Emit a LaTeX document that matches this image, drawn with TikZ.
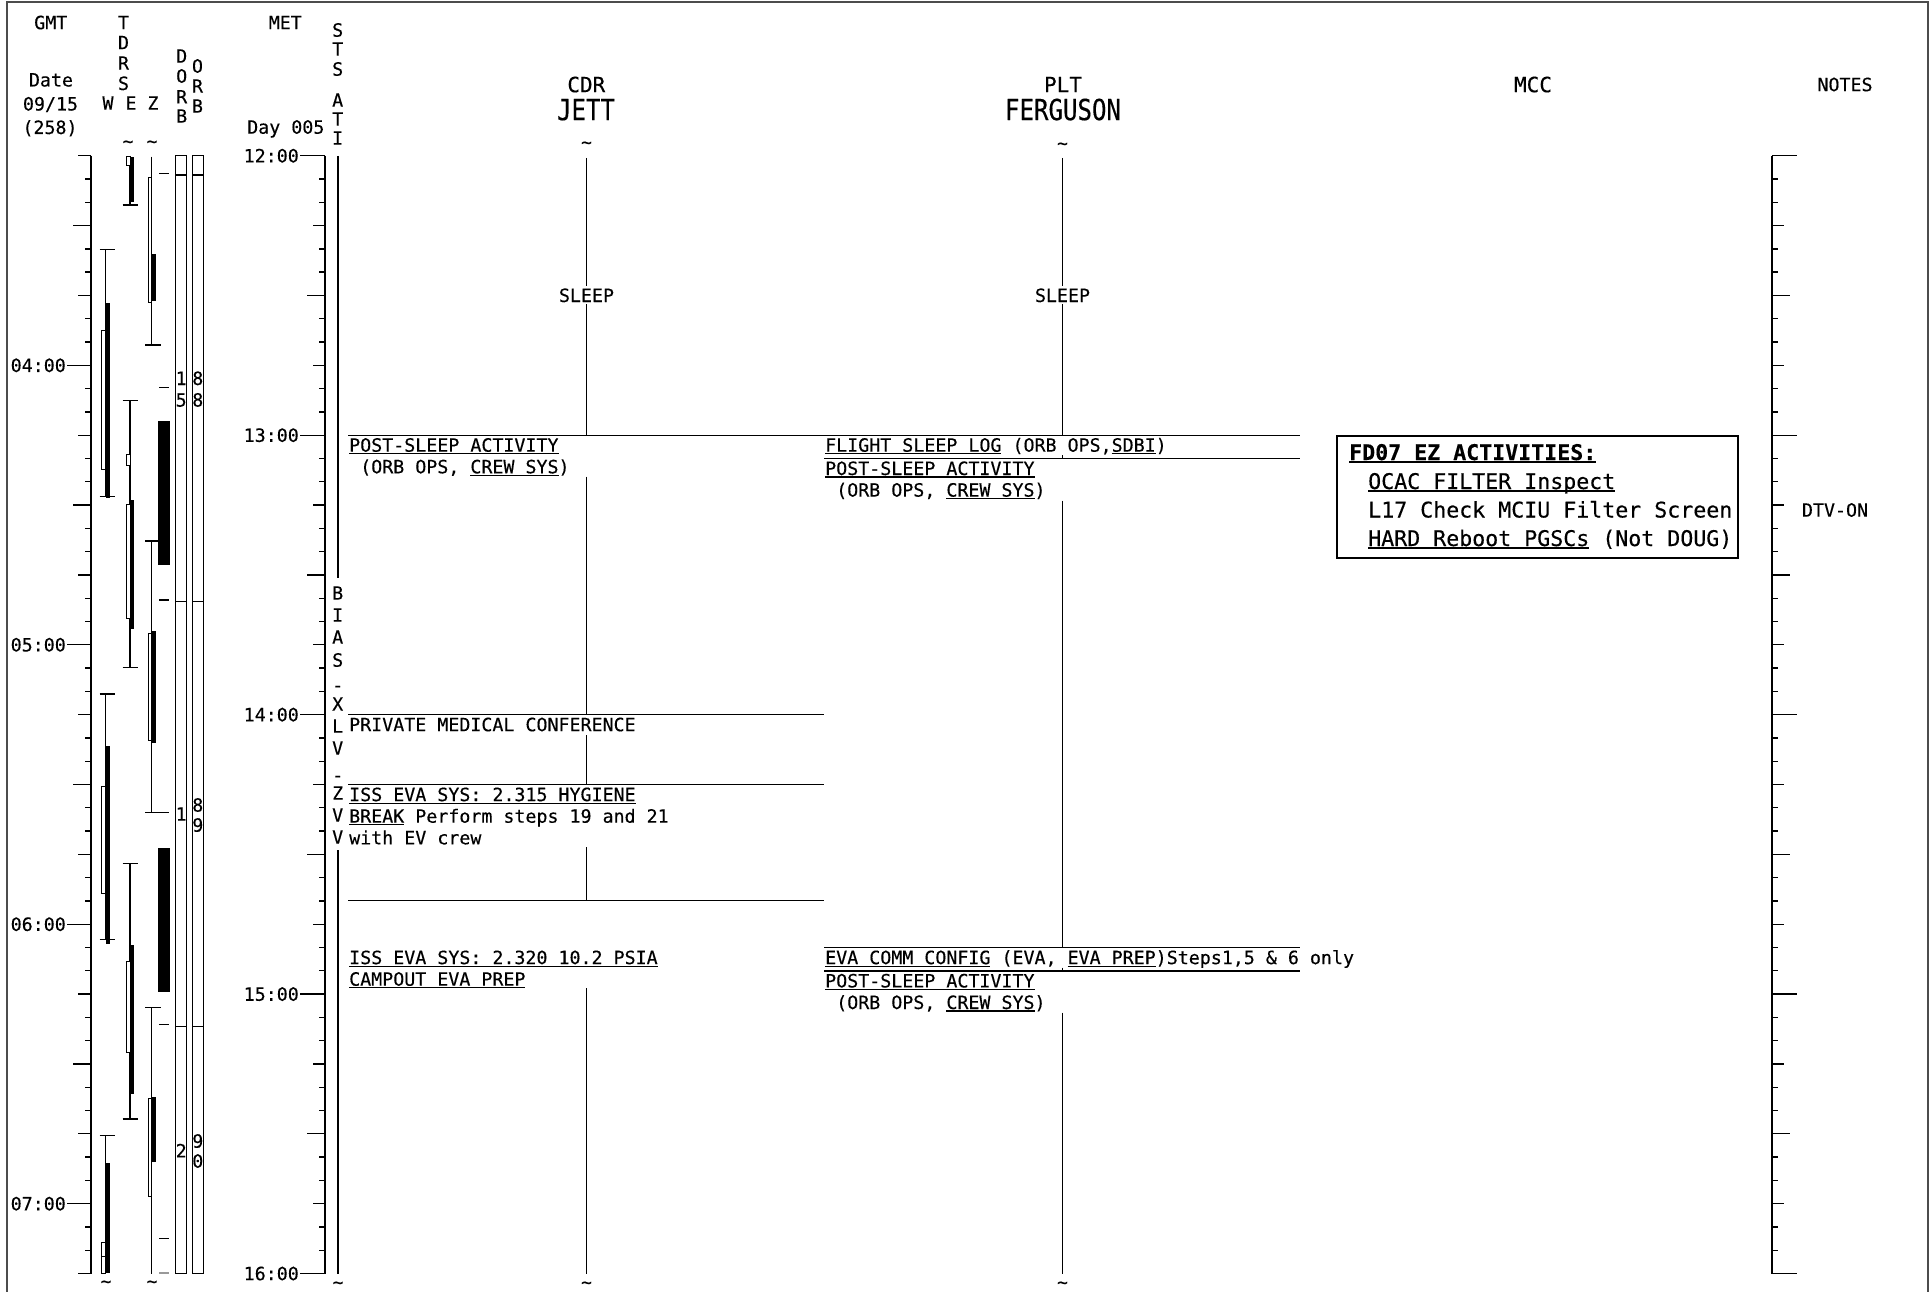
\documentclass[tikz,border=0pt]{standalone}
\usepackage{fontspec}
\newfontfamily\mono[FakeBold=0.3]{DejaVu Sans Mono}
\newfontfamily\monoN[FakeStretch=0.83,FakeBold=0.3]{DejaVu Sans Mono}
\newsavebox\ulbox
\newcommand\UL[1]{\sbox\ulbox{#1}\rlap{\rule[-2.6pt]{\wd\ulbox}{1.2pt}}\usebox\ulbox}
\newcommand\ULB[1]{\sbox\ulbox{#1}\rlap{\rule[-3.2pt]{\wd\ulbox}{1.8pt}}\usebox\ulbox}
\begin{document}
\begin{tikzpicture}[x=1pt,y=-1pt,
  ln/.style={line width=1.3pt},
  tk/.style={line width=1.3pt},
  stsline/.style={line width=2.2pt},
  frameline/.style={line width=2pt, draw=black!70},
  wbar/.style={draw, fill=white, line width=1pt},
  bbar/.style={fill=black},
  txt/.style={font=\mono\fontsize{18.3}{21.6}\selectfont, inner sep=0pt, anchor=base west},
  hd/.style={font=\mono\fontsize{18.3}{21.6}\selectfont, inner sep=0pt, anchor=base},
  lbl/.style={font=\mono\fontsize{18.3}{21.6}\selectfont, inner sep=0pt, anchor=base east},
  colhd/.style={font=\mono\fontsize{21}{25}\selectfont, inner sep=0pt, anchor=base},
  crew/.style={font=\monoN\fontsize{29}{32}\selectfont, inner sep=0pt, anchor=base},
  mcctxt/.style={font=\mono\fontsize{21.6}{28.7}\selectfont, inner sep=0pt, anchor=base west},
  tld/.style={font=\mono\fontsize{18}{20}\selectfont, inner sep=0pt, anchor=base},
  sleeplbl/.style={font=\mono\fontsize{18.3}{21.6}\selectfont, inner sep=2pt, anchor=base, fill=white},
]
\useasboundingbox (0,0) rectangle (1929,1292);

% frame
\draw[frameline] (7,1292) -- (7,2) -- (1928,2) -- (1928,1292);

% ---------- header ----------
\node[hd] (gmt) at (50.8,29.2) {GMT};
\node[hd] (date) at (51,86.5) {Date};
\node[hd] (dday) at (50.5,110.5) {09/15};
\node[hd] (doy) at (50,134) {(258)};
\foreach \c/\yy [count=\i] in {T/29.2,D/49.2,R/69.7,S/90}
  \node[hd] (tdrs\i) at (123.5,\yy) {\c};
\node[hd] (tw) at (108,109.7) {W};
\node[hd] (te) at (131,109.7) {E};
\node[hd] (tz) at (153,109.7) {Z};
\foreach \c/\yy [count=\i] in {D/62.7,O/82.7,R/103.4,B/122.7}
  \node[hd] (dorb\i) at (181.7,\yy) {\c};
\foreach \c/\yy [count=\i] in {O/72.7,R/92.7,B/112.7}
  \node[hd] (orb\i) at (197.5,\yy) {\c};
\node[hd] (met) at (285.3,29.2) {MET};
\node[hd] (day) at (285.8,133.7) {Day 005};
\foreach \c/\yy [count=\i] in {S/36.7,T/55.7,S/75.7,A/106.7,T/125.7,I/144.7}
  \node[hd] (sts\i) at (337.7,\yy) {\c};

\node[colhd] (cdr) at (586.3,92.2) {CDR};
\node[crew] (jett) at (586,120.1) {JETT};
\node[colhd] (plt) at (1063,92.2) {PLT};
\node[crew] (ferg) at (1063,120.1) {FERGUSON};
\node[colhd] (mcc) at (1533,92.2) {MCC};
\node[hd] (notes) at (1845,91.2) {NOTES};

% tildes
\node[tld] (tlE) at (128,147.5) {\textasciitilde};
\node[tld] (tlZ) at (152,147.5) {\textasciitilde};
\node[tld] (tlC) at (586.5,148.5) {\textasciitilde};
\node[tld] (tlP) at (1062.5,149.5) {\textasciitilde};
\node[tld] (blW) at (106,1287.5) {\textasciitilde};
\node[tld] (blZ) at (152,1287.5) {\textasciitilde};
\node[tld] (blS) at (338,1288.5) {\textasciitilde};
\node[tld] (blC) at (586.5,1288.5) {\textasciitilde};
\node[tld] (blP) at (1062.5,1288.5) {\textasciitilde};

% ---------- axes ----------
\draw[tk] (91,155.7) -- (91,1273.5);
\draw[tk] (325,155.7) -- (325,1273.5);
\draw[tk] (1772,155.7) -- (1772,1273.5);
\foreach \k in {0,...,48}{
  \pgfmathsetmacro\yy{155.7+23.2875*\k}
  \pgfmathtruncatemacro\mm{mod(5*\k,60)}
  \pgfmathtruncatemacro\gm{mod(15+5*\k,60)}
  \pgfmathsetmacro\La{\mm==0 ? 25 : (\mm==30 ? 18 : ((\mm==15 || \mm==45) ? 12 : 6))}
  \pgfmathsetmacro\Lg{\gm==0 ? 24 : (\gm==30 ? 18 : ((\gm==15 || \gm==45) ? 12.7 : 6))}
  \draw[tk] (325-\La,\yy) -- (325,\yy);
  \draw[tk] (91-\Lg,\yy) -- (91,\yy);
  \draw[tk] (1772,\yy) -- (1772+\La,\yy);
}
\foreach \k/\t in {0/12,12/13,24/14,36/15,48/16}
  \node[lbl] (met\t) at (299,{155.7+23.2875*\k+6.7}) {\t:00};
\foreach \k/\t in {9/04,21/05,33/06,45/07}
  \node[lbl] (gmt\t) at (66,{155.7+23.2875*\k+6.7}) {\t:00};

% ---------- TDRS W ----------
\draw[ln] (105.7,249.3) -- (105.7,496.7);
\draw[ln] (99.5,249.3) -- (115,249.3);
\draw[ln] (99.5,496.7) -- (115,496.7);
\draw[wbar] (101.7,330) rectangle (105.7,469.3);
\fill[bbar] (105.7,303.3) rectangle (110,498.3);
\draw[ln] (105.7,694) -- (105.7,939.3);
\draw[ln] (99.5,694) -- (115,694);
\draw[ln] (99.5,939.3) -- (115,939.3);
\fill[bbar] (105.7,746) rectangle (110,944);
\draw[wbar] (101.7,786.7) rectangle (105.7,893.3);
\draw[ln] (105.7,1135.7) -- (105.7,1273.5);
\draw[ln] (99.5,1135.7) -- (115,1135.7);
\fill[bbar] (105.7,1163.3) rectangle (110,1273.3);
\draw[wbar] (101.7,1242.3) rectangle (105.7,1273.3);
\draw[line width=1pt] (101.7,1256.7) -- (105.7,1256.7);

% ---------- TDRS E ----------
\draw[ln] (130,156) -- (130,205);
\draw[ln] (122.7,205) -- (138.3,205);
\draw[wbar] (126,156.7) rectangle (130,166);
\fill[bbar] (130,157.3) rectangle (134,201.7);
\draw[ln] (130,400.7) -- (130,667.7);
\draw[ln] (122.7,400.7) -- (138.3,400.7);
\draw[ln] (122.7,667.7) -- (138.3,667.7);
\draw[wbar] (126,454) rectangle (130,465);
\draw[wbar] (126,504) rectangle (130,618.3);
\fill[bbar] (130,500) rectangle (134,629.3);
\draw[ln] (130,863.3) -- (130,1119);
\draw[ln] (122.7,863.3) -- (138.3,863.3);
\draw[ln] (122.7,1119) -- (138.3,1119);
\fill[bbar] (130,945) rectangle (134,1094.3);
\draw[wbar] (126,961.7) rectangle (130,1052.3);

% ---------- TDRS Z ----------
\draw[ln] (151.7,156.7) -- (151.7,345);
\draw[ln] (145,345) -- (160.7,345);
\draw[wbar] (148.3,177.3) rectangle (151.7,302.7);
\fill[bbar] (151.7,254.3) rectangle (155.7,300.7);
\draw[ln] (151.7,541) -- (151.7,812.3);
\draw[ln] (145,541) -- (160.7,541);
\draw[ln] (145,812.3) -- (160.7,812.3);
\draw[wbar] (148.3,633.3) rectangle (151.7,740.7);
\fill[bbar] (151.7,631) rectangle (155.7,743.3);
\draw[ln] (151.7,1007.7) -- (151.7,1273.5);
\draw[ln] (145,1007.7) -- (160.7,1007.7);
\draw[wbar] (148.3,1098.3) rectangle (151.7,1196.7);
\fill[bbar] (151.7,1096.7) rectangle (155.7,1161.7);

% big black bars and marks
\fill[bbar] (158.3,421) rectangle (170,565);
\fill[bbar] (158.3,848.3) rectangle (170,991.7);
\foreach \yy in {173.3,387.7,600,812.3,1024.3,1238.3}
  \draw[ln] (159.3,\yy) -- (169.3,\yy);
\draw[ln, black!40] (159.3,1273) -- (169.3,1273);

% ---------- DORB / ORB ----------
\draw[ln] (175.7,155.7) rectangle (186.7,1273.3);
\draw[ln] (192.3,155.7) rectangle (203.3,1273.3);
\foreach \yy in {175,601.7,1026.7}{
  \draw[ln] (175.7,\yy) -- (186.7,\yy);
  \draw[ln] (192.3,\yy) -- (203.3,\yy);
}
\node[hd] (dn1) at (181.2,385) {1};
\node[hd] (dn2) at (181.2,406.6) {5};
\node[hd] (on1) at (197.8,385) {8};
\node[hd] (on2) at (197.8,406.6) {8};
\node[hd] (dn3) at (181.2,820.7) {1};
\node[hd] (on3) at (197.8,811.7) {8};
\node[hd] (on4) at (197.8,831.7) {9};
\node[hd] (dn4) at (181.2,1157.4) {2};
\node[hd] (on5) at (197.8,1147.7) {9};
\node[hd] (on6) at (197.8,1167.7) {0};

% ---------- STS ATI column ----------
\draw[stsline] (337.7,156) -- (337.7,578.3);
\draw[stsline] (337.7,850) -- (337.7,1273.5);
\foreach \c/\yy [count=\i] in {B/593,I/615,A/637,S/660,-/685,X/704,L/726,V/748,-/775,Z/793,V/815,V/837}
  \node[hd] (bias\i) at (337.7,\yy+6.7) {\c};

% ---------- CDR / PLT timelines ----------
\draw[ln] (586.5,158) -- (586.5,435.2);
\draw[ln] (586.5,476.7) -- (586.5,714.7);
\draw[ln] (586.5,735) -- (586.5,784.6);
\draw[ln] (586.5,847) -- (586.5,900.8);
\draw[ln] (586.5,988) -- (586.5,1273.5);
\draw[ln] (1062.5,158) -- (1062.5,435.2);
\draw[ln] (1062.5,455) -- (1062.5,458.5);
\draw[ln] (1062.5,500.7) -- (1062.5,947.6);
\draw[ln] (1062.5,967.5) -- (1062.5,970.9);
\draw[ln] (1062.5,1012.5) -- (1062.5,1273.5);

\draw[ln] (348,435.2) -- (1300,435.2);
\draw[ln] (824,458.5) -- (1300,458.5);
\draw[ln] (348,714.7) -- (824,714.7);
\draw[ln] (348,784.6) -- (824,784.6);
\draw[ln] (348,900.8) -- (824,900.8);
\draw[ln] (824,947.6) -- (1300,947.6);
\draw[ln] (824,970.9) -- (1300,970.9);

\node[sleeplbl] (sleepC) at (586.5,302) {SLEEP};
\node[sleeplbl] (sleepP) at (1062.5,302) {SLEEP};

% CDR activities
\node[txt] (c1a) at (349,451.7) {\UL{POST-SLEEP ACTIVITY}};
\node[txt] (c1b) at (349,473.3) {\hphantom{X}(ORB OPS, \UL{CREW SYS})};
\node[txt] (c2) at (349,731.2) {PRIVATE MEDICAL CONFERENCE};
\node[txt] (c3a) at (349,801.1) {\UL{ISS EVA SYS: 2.315 HYGIENE}};
\node[txt] (c3b) at (349,822.7) {\UL{BREAK} Perform steps 19 and 21};
\node[txt] (c3c) at (349,844.3) {with EV crew};
\node[txt] (c4a) at (349,964.1) {\UL{ISS EVA SYS: 2.320 10.2 PSIA}};
\node[txt] (c4b) at (349,985.7) {\UL{CAMPOUT EVA PREP}};

% PLT activities
\node[txt] (p1) at (825,451.7) {\UL{FLIGHT SLEEP LOG} (ORB OPS,\UL{SDBI})};
\node[txt] (p2a) at (825,475) {\UL{POST-SLEEP ACTIVITY}};
\node[txt] (p2b) at (825,496.6) {\hphantom{X}(ORB OPS, \UL{CREW SYS})};
\node[txt] (p3) at (825,964.1) {\UL{EVA COMM CONFIG} (EVA, \UL{EVA PREP})Steps1,5 \& 6 only};
\node[txt] (p4a) at (825,987.4) {\UL{POST-SLEEP ACTIVITY}};
\node[txt] (p4b) at (825,1009) {\hphantom{X}(ORB OPS, \UL{CREW SYS})};

% ---------- MCC box ----------
\draw[line width=2pt] (1337,435.5) rectangle (1738,558);
\node[mcctxt] (m1) at (1349,460) {\bfseries\ULB{FD07 EZ ACTIVITIES:}};
\node[mcctxt] (m2) at (1368,489) {\UL{OCAC FILTER Inspect}};
\node[mcctxt] (m3) at (1368,517.5) {L17 Check MCIU Filter Screen};
\node[mcctxt] (m4) at (1368,546) {\UL{HARD Reboot PGSCs} (Not DOUG)};

% ---------- notes ----------
\node[hd] (dtv) at (1835,516.7) {DTV-ON};
\end{tikzpicture}
\end{document}
